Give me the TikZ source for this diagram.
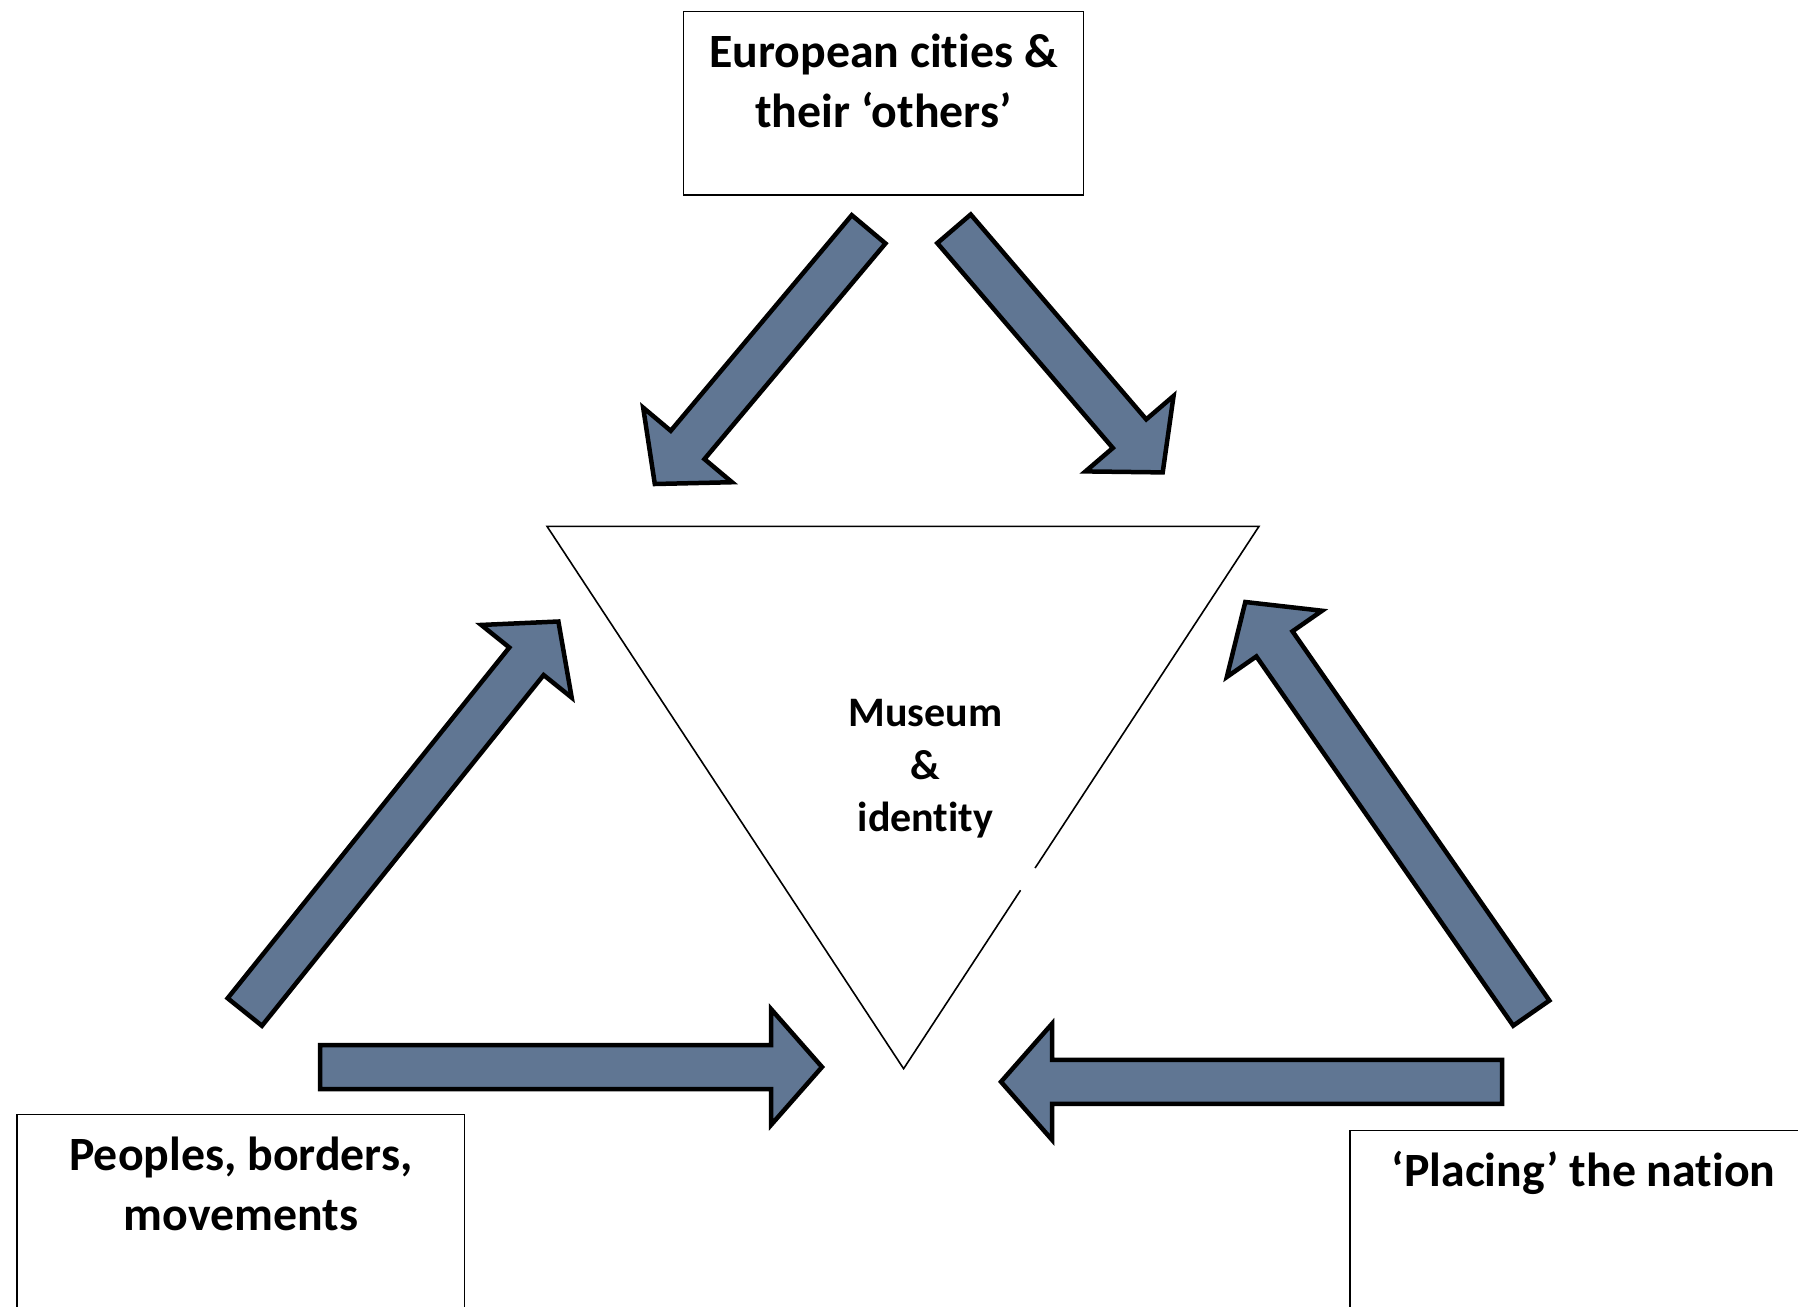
\documentclass[tikz,border=0pt]{standalone}
\usepackage{fontspec}
\setmainfont{Carlito}[Ligatures=NoCommon]
\usetikzlibrary{calc}
\definecolor{arrowblue}{RGB}{96,118,147}
\newcommand\bwShaft{22pt}
\newcommand\bwHead{58pt}
\newcommand\bwLen{51pt}
\newcommand\blockarrow[3]{%
  \coordinate (#3-b) at ($(#2)!\bwLen!(#1)$);
  \draw[blockar] ($(#1)!\bwShaft!90:(#2)$) -- ($(#3-b)!\bwShaft!90:(#2)$)
    -- ($(#3-b)!\bwHead!90:(#2)$) -- (#2) -- ($(#3-b)!\bwHead!-90:(#2)$)
    -- ($(#3-b)!\bwShaft!-90:(#2)$) -- ($(#1)!\bwShaft!-90:(#2)$) -- cycle;}
\tikzset{
  blockar/.style={draw=black, fill=arrowblue, line width=4.5pt, line join=miter},
  boxst/.style={draw=black, line width=1.6pt, fill=white},
  bigtxt/.style={font=\fontsize{47.8}{60}\selectfont\bfseries, align=center, inner sep=0pt},
  midtxt/.style={font=\fontsize{42}{52.5}\selectfont\bfseries, align=center, inner sep=0pt},
  triline/.style={draw=black, line width=1.6pt, line join=miter}
}
\begin{document}
\begin{tikzpicture}[x=1pt,y=-1pt]
\clip (0,0) rectangle (1798,1306);
\fill[white] (0,0) rectangle (1798,1306);
% boxes
\draw[boxst] (683.4,11.5) rectangle (1083.6,195);
\node[bigtxt] (cities) at (883.5,81) {European cities \&\\their ‘others’};
\draw[boxst] (17.2,1114.6) rectangle (464.4,1330);
\node[bigtxt] (peoples) at (241,1184) {Peoples, borders,\\movements};
\draw[boxst] (1349.7,1130.6) rectangle (1830,1330);
\node[bigtxt] (placing) at (1583.6,1173) {‘Placing’ the nation};
% triangle
\coordinate (tl) at (547,526.3);
\coordinate (tr) at (1259,526.3);
\coordinate (tb) at (903.6,1068.7);
\draw[triline] ($(tr)!0.671!(tb)$) -- (tb) -- (tl) -- (tr) -- ($(tr)!0.63!(tb)$);
\node[midtxt] (museum) at (925.4,769) {Museum\\\&\\identity};
% arrows
\coordinate (a1t) at (868.6,229.3);   \coordinate (a1h) at (654.8,484);
\coordinate (a2t) at (954,228.8);     \coordinate (a2h) at (1162.7,472.4);
\coordinate (a3t) at (244.8,1012);    \coordinate (a3h) at (558.4,621.5);
\coordinate (a4t) at (320,1067);      \coordinate (a4h) at (822,1067);
\coordinate (a5t) at (1502,1081.8);   \coordinate (a5h) at (1001,1081.8);
\coordinate (a6t) at (1531.3,1013.1); \coordinate (a6h) at (1245.3,602);
\blockarrow{a1t}{a1h}{a1}
\blockarrow{a2t}{a2h}{a2}
\blockarrow{a3t}{a3h}{a3}
\blockarrow{a4t}{a4h}{a4}
\blockarrow{a5t}{a5h}{a5}
\blockarrow{a6t}{a6h}{a6}
\end{tikzpicture}
\end{document}
